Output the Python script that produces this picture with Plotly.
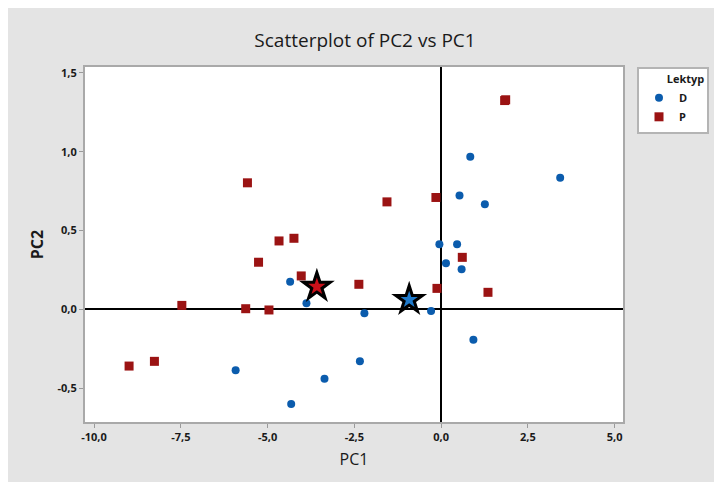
import plotly.graph_objects as go

# ---- data ----
d_x = [-4.35, -3.88, -5.92, -3.36, -4.32, -2.34, 0.84, 3.43, 0.53, 1.26,
       -0.05, 0.46, 0.14, 0.59, -0.29, -2.21, 0.93]
d_y = [0.175, 0.038, -0.386, -0.441, -0.600, -0.330, 0.968, 0.835, 0.722, 0.667,
       0.413, 0.413, 0.292, 0.254, -0.011, -0.025, -0.193]

p_x = [-5.58, 1.83, 1.86, -1.56, -0.15, -4.67, -4.24, -5.26, -4.03, -2.37,
       0.61, -0.12, 1.35, -7.47, -5.63, -4.96, -8.99, -8.26]
p_y = [0.803, 1.325, 1.330, 0.682, 0.710, 0.434, 0.451, 0.299, 0.212, 0.159,
       0.330, 0.133, 0.108, 0.025, 0.004, -0.004, -0.360, -0.330]

star_p = [-3.58, 0.144]
star_d = [-0.92, 0.061]

x_ticks = [-10.0, -7.5, -5.0, -2.5, 0.0, 2.5, 5.0]
x_tick_labels = ["-10,0", "-7,5", "-5,0", "-2,5", "0,0", "2,5", "5,0"]
y_ticks = [-0.5, 0.0, 0.5, 1.0, 1.5]
y_tick_labels = ["-0,5", "0,0", "0,5", "1,0", "1,5"]

BLUE = "#0b5cad"
RED = "#9b1313"
FONT = "Open Sans"

fig = go.Figure()
fig.add_trace(go.Scatter(x=d_x, y=d_y, mode="markers", name="D",
                         marker=dict(symbol="circle", size=8, color=BLUE)))
fig.add_trace(go.Scatter(x=p_x, y=p_y, mode="markers", name="P",
                         marker=dict(symbol="square", size=9, color=RED)))
# group centroid stars
for pt, col in ((star_p, "#c8101a"), (star_d, "#1f7acb")):
    fig.add_trace(go.Scatter(x=[pt[0]], y=[pt[1]], mode="markers", showlegend=False,
                             marker=dict(symbol="star", size=27, color="black")))
    fig.add_trace(go.Scatter(x=[pt[0]], y=[pt[1]], mode="markers", showlegend=False,
                             marker=dict(symbol="star", size=13, color=col)))

# the page body has an 8px margin, so the figure starts at (8, 8)
W, H = 714, 474
L, R, T, B = 77, 99, 59, 60
pw, ph = W - L - R, H - T - B

def px2paper_x(px):
    return (px - L) / pw

axis_common = dict(
    showgrid=False, ticks="outside", ticklen=4, tickwidth=1, tickcolor="#9a9a9a",
    showline=True, linecolor="#a9a9a9", linewidth=2, mirror=True,
    zeroline=True, zerolinecolor="black", zerolinewidth=1.5,
    tickfont=dict(family=FONT, size=11, color="#1a1a1a", weight="bold"),
)

fig.update_layout(
    width=W, height=H,
    margin=dict(l=L, r=R, t=T, b=B, pad=0),
    paper_bgcolor="#e4e4e4", plot_bgcolor="white",
    separators=",.",
    title=dict(text="Scatterplot of PC2 vs PC1", x=0.5, xref="container",
               xanchor="center", y=1 - 32 / H, yref="container", yanchor="middle",
               font=dict(family=FONT, size=19, color="#1a1a1a")),
    xaxis=dict(range=[-10.26, 5.24], tickvals=x_ticks, ticktext=x_tick_labels,
               title=dict(text="PC1", font=dict(family=FONT, size=16, color="#1a1a1a"),
                          standoff=11),
               **axis_common),
    yaxis=dict(range=[-0.715, 1.538], tickvals=y_ticks, ticktext=y_tick_labels,
               title=dict(text="PC2", font=dict(family=FONT, size=16, color="#1a1a1a", weight="bold"),
                          standoff=10),
               **axis_common),
    legend=dict(x=px2paper_x(629), y=1.0, xanchor="left", yanchor="top",
                bgcolor="white", bordercolor="#b4b4b4", borderwidth=2,
                title=dict(text="\u00a0" * 9 + "Lektyp",
                           font=dict(family=FONT, size=11, color="#1a1a1a", weight="bold")),
                font=dict(family=FONT, size=11, color="#1a1a1a", weight="bold"),
                itemwidth=30, tracegroupgap=0),
)

fig.write_html("out.html")
